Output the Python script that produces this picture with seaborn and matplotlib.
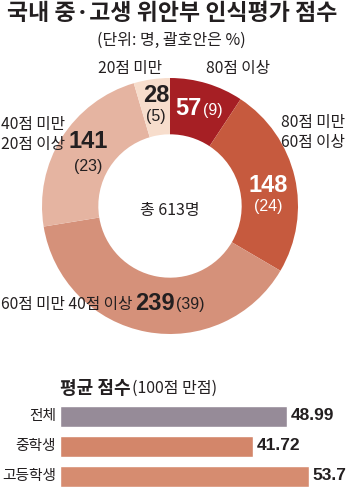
import matplotlib
matplotlib.use("Agg")
import matplotlib.pyplot as plt
import seaborn as sns
import pandas as pd
import logging
logging.getLogger("matplotlib.font_manager").setLevel(logging.ERROR)

# ---- data ----
seg_labels = ["80점 이상", "80점 미만 60점 이상", "60점 미만 40점 이상", "40점 미만 20점 이상", "20점 미만"]
seg_counts = [57, 148, 239, 141, 28]
seg_pcts = [9, 24, 39, 23, 5]
seg_colors = ["#A61F24", "#C65A3E", "#D5917A", "#E5B4A1", "#F7DDCC"]
total = 613

bar_cats = ["전체", "중학생", "고등학생"]
bar_vals = [48.99, 41.72, 53.7]
bar_colors = ["#968B98", "#D3866A", "#D68C70"]

sns.set_theme(style="white")
plt.rcParams["font.family"] = ["Noto Sans CJK KR", "DejaVu Sans"]
NUMF = ["Liberation Sans", "Noto Sans CJK KR"]

W, H = 347, 487
fig = plt.figure(figsize=(W / 100, H / 100), dpi=100)
fig.patch.set_facecolor("white")
INK = "#231F20"


def T(x, y, s, **kw):
    kw.setdefault("color", INK)
    kw.setdefault("va", "center")
    return fig.text(x / W, 1 - y / H, s, **kw)


# title
T(172, 13, "국내 중·고생 위안부 인식평가 점수", ha="center", fontsize=16.5, fontweight="bold")
T(171, 40, "(단위: 명, 괄호안은 %)", ha="center", fontsize=11.5)

# donut
cx, cy, r = 170, 206, 128
ax = fig.add_axes([(cx - r) / W, 1 - (cy + r) / H, 2 * r / W, 2 * r / H])
ax.pie(seg_counts, colors=seg_colors, startangle=90, counterclock=False,
       radius=1, wedgeprops=dict(width=0.44, linewidth=0))
ax.set_xlim(-1, 1)
ax.set_ylim(-1, 1)
ax.set_aspect("equal")
ax.axis("off")

LF = 11.3
# outer labels
T(238, 68, "80점 이상", ha="center", fontsize=LF)
T(130, 68, "20점 미만", ha="center", fontsize=LF)
T(345, 123, "80점 미만", ha="right", fontsize=LF)
T(345, 142, "60점 이상", ha="right", fontsize=LF)
T(1, 125, "40점 미만", ha="left", fontsize=LF)
T(1, 144, "20점 이상", ha="left", fontsize=LF)
T(1, 305, "60점 미만 40점 이상", ha="left", fontsize=LF)

# in-ring values
BF = 17
PF = 11.5
T(202, 109, str(seg_counts[0]), ha="right", fontsize=BF, fontweight="bold", color="white", family=NUMF)
T(203, 110, f"({seg_pcts[0]})", ha="left", fontsize=PF, color="white", family=NUMF)
T(268, 185, str(seg_counts[1]), ha="center", fontsize=BF, fontweight="bold", color="white", family=NUMF)
T(268, 207, f"({seg_pcts[1]})", ha="center", fontsize=PF, color="white", family=NUMF)
T(175, 304, str(seg_counts[2]), ha="right", fontsize=BF, fontweight="bold", family=NUMF)
T(176, 305, f"({seg_pcts[2]})", ha="left", fontsize=PF, family=NUMF)
T(88, 142, str(seg_counts[3]), ha="center", fontsize=BF, fontweight="bold", family=NUMF)
T(88, 166, f"({seg_pcts[3]})", ha="center", fontsize=PF, family=NUMF)
T(156, 96, str(seg_counts[4]), ha="center", fontsize=BF, fontweight="bold", family=NUMF)
T(156, 117, f"({seg_pcts[4]})", ha="center", fontsize=PF, family=NUMF)

T(170, 211, f"총 {total}명", ha="center", fontsize=11.5)

# bar section title
t1 = T(60, 388, "평균 점수", ha="left", fontsize=13, fontweight="bold")
fig.canvas.draw()
bb = t1.get_window_extent()
T(bb.x1 + 1, 388, "(100점 만점)", ha="left", fontsize=11.5)

# bars
px_per_unit = 4.63
x0, xr = 60, 340
top, bot = 401, 487
axb = fig.add_axes([x0 / W, 1 - bot / H, (xr - x0) / W, (bot - top) / H])
df = pd.DataFrame({"cat": bar_cats, "val": bar_vals})
sns.barplot(data=df, x="val", y="cat", hue="cat", palette=bar_colors, legend=False,
            orient="h", width=0.7, ax=axb, saturation=1)
axb.set_xlim(0, (xr - x0) / px_per_unit)
axb.set_ylim(-0.5 + (bot - top) / 30.0, -0.5)
axb.axis("off")
for i, v in enumerate(bar_vals):
    axb.text(v + 0.8, i, f"{v:g}", ha="left", va="center", fontsize=12.5,
             fontweight="bold", color=INK, family=NUMF, clip_on=False)
    yc = 416 + i * 30
    T(56, yc, bar_cats[i], ha="right", fontsize=10.6)

fig.savefig("out.png", dpi=100, facecolor="white")
